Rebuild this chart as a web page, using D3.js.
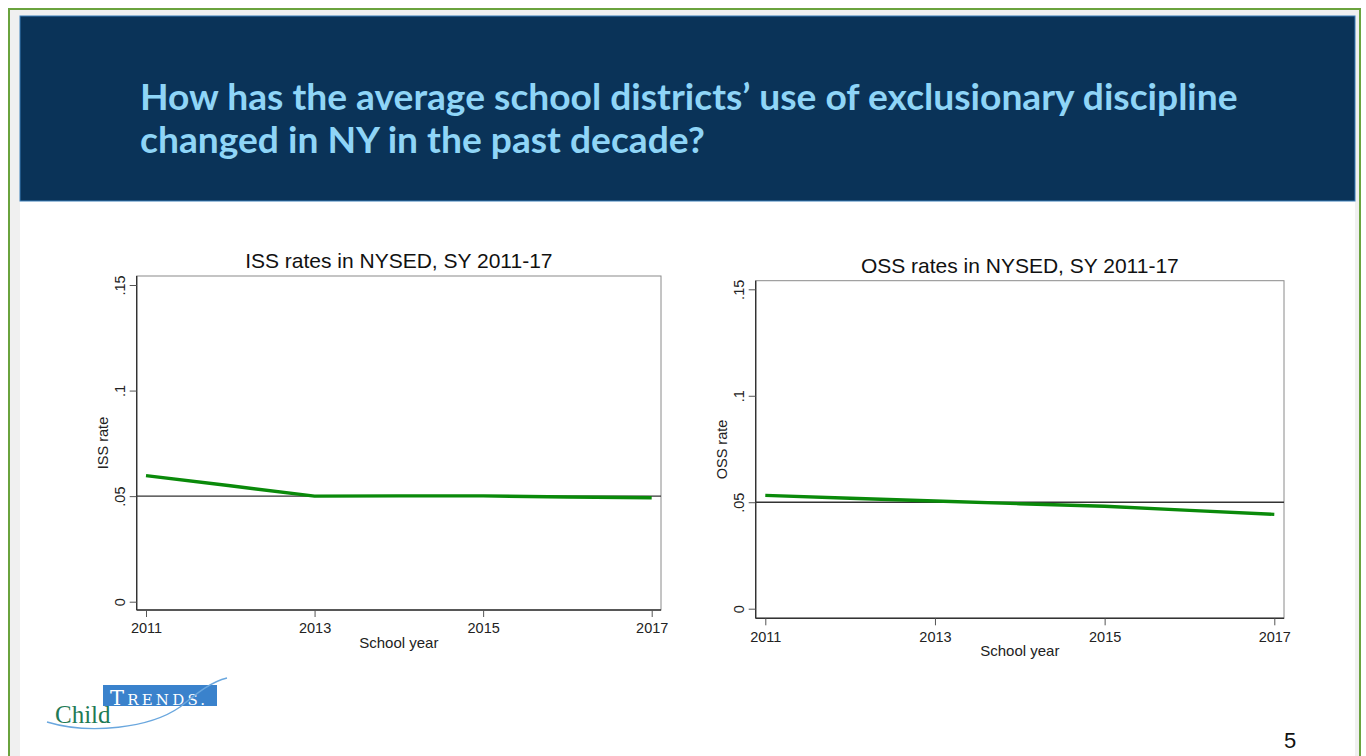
<!DOCTYPE html>
<html>
<head>
<meta charset="utf-8">
<script src="https://cdn.jsdelivr.net/npm/d3@7"></script>
<style>
  html, body { margin: 0; padding: 0; background: #fff; }
  svg { display: block; }
</style>
</head>
<body>
<svg id="slide" width="1366" height="756"></svg>
<script>
// data
var years = [2011, 2012, 2013, 2014, 2015, 2016, 2017];
var issRate = [0.0597, 0.0549, 0.0500, 0.0501, 0.0501, 0.0496, 0.0492];
var ossRate = [0.0532, 0.0519, 0.0506, 0.0493, 0.0481, 0.0462, 0.0443];
var xTicks = [2011, 2013, 2015, 2017];
var yTicks = [0, 0.05, 0.1, 0.15];
var yTickLabels = ["0", ".05", ".1", ".15"];
var refLine = 0.05;

var titleLines = ["How has the average school districts\u2019 use of exclusionary discipline",
                  "changed in NY in the past decade?"];

var svg = d3.select("#slide");

// page frame
svg.append("rect").attr("x", 9).attr("y", 9).attr("width", 1351).attr("height", 760)
  .attr("fill", "#f0f0f0").attr("stroke", "#6aa33e").attr("stroke-width", 2);
svg.append("rect").attr("x", 20).attr("y", 200).attr("width", 1335).attr("height", 570)
  .attr("fill", "#fff");
svg.append("rect").attr("x", 20).attr("y", 16).attr("width", 1335).attr("height", 185)
  .attr("fill", "#0a3358").attr("stroke", "#3a7fb8").attr("stroke-width", 1);

var title = svg.append("g");
title.selectAll("text")
  .data(titleLines)
  .enter().append("text")
    .attr("x", 140)
    .attr("y", function(d, i) { return 110 + i * 43; })
    .attr("fill", "#8fd5f7")
    .style("font-family", "Lato")
    .style("font-weight", "bold")
    .style("font-size", "34px")
    .text(function(d) { return d; });
// fit first line to its width in the picture
var w0 = title.select("text").node().getComputedTextLength();
title.selectAll("text").style("font-size", (34 * 1098 / w0).toFixed(2) + "px");

function drawPanel(opt) {
  var g = svg.append("g");
  var x = d3.scaleLinear().domain([2011, 2017]).range([opt.x0, opt.x1]);
  var y = d3.scaleLinear().domain([0, 0.15]).range([opt.y0, opt.y1]);

  // plot region
  g.append("rect")
    .attr("x", opt.left).attr("y", opt.top)
    .attr("width", opt.right - opt.left).attr("height", opt.bottom - opt.top)
    .attr("fill", "#fff").attr("stroke", "#8a8a8a").attr("stroke-width", 1);

  var font = "Liberation Sans, Arial, sans-serif";

  var yAxis = g.append("g")
    .attr("transform", "translate(" + opt.left + ",0)")
    .call(d3.axisLeft(y).tickValues(yTicks).tickSize(7).tickPadding(6)
      .tickFormat(function(d, i) { return yTickLabels[i]; }));
  yAxis.select(".domain").attr("d", "M0," + opt.top + "V" + opt.bottom)
    .attr("stroke", "#333").attr("stroke-width", 1.4);
  yAxis.selectAll(".tick line").attr("stroke", "#555");
  yAxis.selectAll(".tick text")
    .attr("x", null).attr("dy", null)
    .attr("transform", "translate(-12,0) rotate(-90)")
    .attr("text-anchor", "middle")
    .style("font-family", font).style("font-size", "14.5px").attr("fill", "#222");

  var xAxis = g.append("g")
    .attr("transform", "translate(0," + opt.bottom + ")")
    .call(d3.axisBottom(x).tickValues(xTicks).tickSize(7).tickPadding(6)
      .tickFormat(d3.format("d")));
  xAxis.select(".domain").attr("d", "M" + opt.left + ",0H" + opt.right)
    .attr("stroke", "#333").attr("stroke-width", 1.4);
  xAxis.selectAll(".tick line").attr("stroke", "#555");
  xAxis.selectAll(".tick text")
    .style("font-family", font).style("font-size", "14.5px").attr("fill", "#222");

  // reference line
  g.append("line")
    .attr("x1", opt.left).attr("x2", opt.right)
    .attr("y1", y(refLine)).attr("y2", y(refLine))
    .attr("stroke", "#333").attr("stroke-width", 1.3);

  var line = d3.line()
    .x(function(d, i) { return x(years[i]); })
    .y(function(d) { return y(d); });
  g.append("path")
    .datum(opt.values)
    .attr("d", line)
    .attr("fill", "none")
    .attr("stroke", "#0a8a0a")
    .attr("stroke-width", 3.4)
    .attr("stroke-linejoin", "round");

  var cx = (opt.left + opt.right) / 2;
  g.append("text").attr("x", cx).attr("y", opt.top - 8)
    .attr("text-anchor", "middle")
    .style("font-family", font).style("font-size", "21px").attr("fill", "#111")
    .text(opt.title);
  g.append("text").attr("x", cx).attr("y", opt.bottom + 38)
    .attr("text-anchor", "middle")
    .style("font-family", font).style("font-size", "15px").attr("fill", "#222")
    .text("School year");
  g.append("text")
    .attr("transform", "translate(" + (opt.left - 29) + "," + ((opt.top + opt.bottom) / 2) + ") rotate(-90)")
    .attr("text-anchor", "middle")
    .style("font-family", font).style("font-size", "14.5px").attr("fill", "#222")
    .text(opt.ylabel);
}

drawPanel({
  title: "ISS rates in NYSED, SY 2011-17", ylabel: "ISS rate", values: issRate,
  left: 136.7, top: 276, right: 661, bottom: 610,
  x0: 146, x1: 651.7, y0: 601.7, y1: 285
});
drawPanel({
  title: "OSS rates in NYSED, SY 2011-17", ylabel: "OSS rate", values: ossRate,
  left: 755.7, top: 280.7, right: 1284, bottom: 618.3,
  x0: 765.3, x1: 1274.3, y0: 608.7, y1: 289.3
});

// Child Trends logo
var logo = svg.append("g");
logo.append("rect").attr("x", 103).attr("y", 685).attr("width", 114).attr("height", 21)
  .attr("fill", "#3a82cc");
var tr = logo.append("text").attr("x", 110).attr("y", 705)
  .style("font-family", "DejaVu Serif, serif")
  .style("letter-spacing", "3.2px").attr("fill", "#fff");
tr.append("tspan").style("font-size", "21px").text("T");
tr.append("tspan").style("font-size", "15px").text("RENDS.");
logo.append("path")
  .attr("d", "M47,722 C90,735 150,728 180,707 C195,695 210,682 227,678")
  .attr("fill", "none").attr("stroke", "#6aa7de").attr("stroke-width", 1.4);
logo.append("text").attr("x", 55).attr("y", 723)
  .style("font-family", "Liberation Serif, serif").style("font-size", "25px")
  .attr("fill", "#1f7a55")
  .text("Child");

// page number
svg.append("text").attr("x", 1290).attr("y", 748).attr("text-anchor", "middle")
  .style("font-family", "Liberation Sans, Arial, sans-serif").style("font-size", "22px")
  .attr("fill", "#111").text("5");
</script>
</body>
</html>
